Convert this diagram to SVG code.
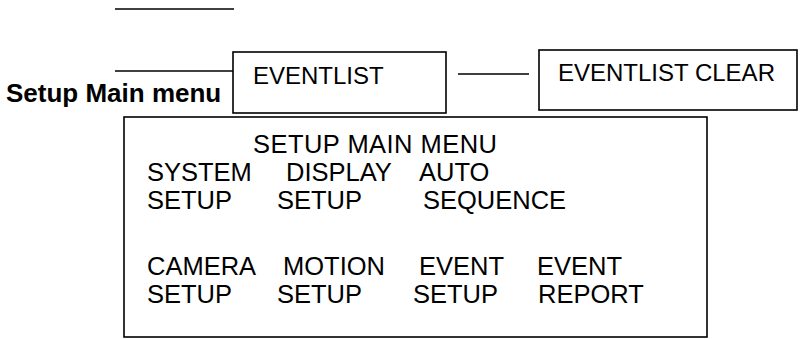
<svg xmlns="http://www.w3.org/2000/svg" width="801" height="339" viewBox="0 0 801 339">
<style>
.box{fill:#fff;stroke:#000;stroke-width:1.6}
.ln{stroke:#000;stroke-width:1.6;fill:none}
.t{font-family:"Liberation Sans",Arial,sans-serif;font-size:25.5px;fill:#000}
.b{font-family:"Liberation Sans",Arial,sans-serif;font-size:24px;fill:#000}
.lbl{font-family:"Liberation Sans",Arial,sans-serif;font-size:26px;font-weight:bold;fill:#000}
</style>
<rect width="801" height="339" fill="#fff"/>
<g id="connectors">
<line class="ln" x1="115" y1="9" x2="234" y2="9"/>
<line class="ln" x1="115" y1="71" x2="233" y2="71"/>
<line class="ln" x1="458" y1="74" x2="529" y2="74"/>
</g>
<g id="label">
<text class="lbl" x="6" y="102">Setup Main menu</text>
</g>
<g id="eventlist">
<rect class="box" x="233" y="52" width="213" height="61"/>
<text class="b" x="253" y="84">EVENTLIST</text>
</g>
<g id="eventlist-clear">
<rect class="box" x="539" y="50" width="258" height="60"/>
<text class="b" x="558" y="81">EVENTLIST CLEAR</text>
</g>
<g id="setup-main-menu">
<rect class="box" x="124" y="117" width="583" height="220"/>
<text class="t" x="253" y="153" textLength="244" lengthAdjust="spacing">SETUP MAIN MENU</text>
<text class="t" x="147" y="181">SYSTEM</text>
<text class="t" x="286" y="181">DISPLAY</text>
<text class="t" x="419" y="181">AUTO</text>
<text class="t" x="147" y="209">SETUP</text>
<text class="t" x="277" y="209">SETUP</text>
<text class="t" x="423" y="209">SEQUENCE</text>
<text class="t" x="147" y="275">CAMERA</text>
<text class="t" x="283" y="275">MOTION</text>
<text class="t" x="419" y="275">EVENT</text>
<text class="t" x="537" y="275">EVENT</text>
<text class="t" x="147" y="303">SETUP</text>
<text class="t" x="277" y="303">SETUP</text>
<text class="t" x="413" y="303">SETUP</text>
<text class="t" x="538" y="303">REPORT</text>
</g>
</svg>
